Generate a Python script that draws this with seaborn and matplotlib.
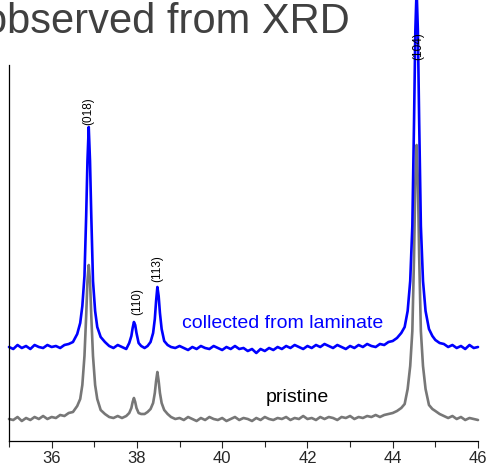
import matplotlib
matplotlib.use("Agg")
import matplotlib.pyplot as plt
import seaborn as sns

sns.set_style("ticks")
plt.rcParams['font.family'] = ['Liberation Sans', 'DejaVu Sans']

# 2-theta (deg) and intensities (arb. units, laminate trace already stacked above pristine)
two_theta = [
    35.0, 35.1, 35.2, 35.3, 35.4, 35.5, 35.6, 35.7, 35.8, 35.9, 36.0, 36.1, 36.2, 36.3, 36.4, 36.5,
    36.6, 36.67, 36.72, 36.77, 36.81, 36.84, 36.87, 36.90, 36.93, 36.97, 37.02, 37.07, 37.15, 37.25,
    37.35, 37.45, 37.55, 37.65, 37.75,
    37.82, 37.87, 37.90, 37.93, 37.96, 37.99, 38.04, 38.1, 38.18, 38.25, 38.32,
    38.38, 38.42, 38.45, 38.48, 38.51, 38.54, 38.58, 38.64, 38.72, 38.8, 38.9,
    39.0, 39.1, 39.2, 39.3, 39.4, 39.5, 39.6, 39.7, 39.8, 39.9,
    40.0, 40.1, 40.2, 40.3, 40.4, 40.5, 40.6, 40.7, 40.8, 40.9,
    41.0, 41.1, 41.2, 41.3, 41.4, 41.5, 41.6, 41.7, 41.8, 41.9,
    42.0, 42.1, 42.2, 42.3, 42.4, 42.5, 42.6, 42.7, 42.8, 42.9,
    43.0, 43.1, 43.2, 43.3, 43.4, 43.5, 43.6, 43.7, 43.8, 43.9,
    44.0, 44.1,
    44.2, 44.28, 44.35, 44.41, 44.46, 44.50, 44.53, 44.56, 44.59, 44.62, 44.66, 44.71, 44.77,
    44.85, 44.93, 45.0,
    45.1, 45.2, 45.3, 45.4, 45.5, 45.6, 45.7, 45.8, 45.9, 46.0,
]

pristine = [
    22, 21, 24, 20, 23, 21, 24, 22, 25, 22, 24, 23, 26, 25, 28, 29,
    35, 42, 56, 85, 125, 160, 176, 160, 125, 85, 56, 42, 31, 27, 24, 23, 25, 23, 25,
    28, 33, 39, 43, 39, 33, 28, 27, 27, 29, 32,
    38, 48, 60, 69, 60, 48, 38, 31, 27, 24, 22,
    23, 21, 24, 22, 20, 23, 21, 24, 22, 21,
    23, 20, 22, 24, 21, 23, 22, 20, 23, 21,
    24, 22, 21, 23, 22, 24, 21, 23, 22, 25,
    22, 23, 21, 24, 22, 24, 23, 21, 24, 23,
    25, 22, 24, 23, 25, 24, 26, 24, 26, 27,
    28, 30,
    33, 37, 52, 75, 110, 185, 260, 296, 260, 185, 110, 75, 52, 36, 32, 30,
    27, 25, 23, 25, 22, 24, 21, 23, 22, 21,
]

laminate = [
    94, 92, 96, 93, 95, 92, 96, 94, 93, 96, 94, 95, 93, 96, 97, 99,
    107, 118, 135, 165, 225, 280, 314, 280, 225, 160, 130, 114, 104, 99, 95, 93, 96, 94, 92,
    98, 105, 113, 119, 116, 108, 98, 95, 93, 95, 99,
    108, 122, 140, 154, 145, 128, 112, 100, 96, 94, 93,
    95, 93, 91, 94, 92, 95, 93, 92, 95, 93,
    91, 94, 92, 95, 92, 93, 90, 92, 88, 92,
    90, 93, 91, 94, 92, 95, 93, 96, 94, 92,
    95, 93, 96, 94, 97, 95, 93, 96, 94, 92,
    95, 93, 96, 94, 97, 95, 94, 97, 96, 99,
    100, 103,
    108, 114, 130, 160, 215, 320, 410, 452, 410, 320, 215, 160, 130, 112, 105, 101,
    98, 97, 94, 96, 93, 95, 92, 96, 93, 94,
]

peak_labels = ["(018)", "(110)", "(113)", "(104)"]
peak_theta = [36.85, 38.01, 38.48, 44.61]
label_height = [316, 126, 159, 381]

major_ticks = [36, 38, 40, 42, 44, 46]
minor_ticks = [35, 37, 39, 41, 43, 45]

fig = plt.figure(figsize=(4.87, 4.70), dpi=100)
ax = fig.add_axes([9 / 487, 29 / 470, 469 / 487, 376 / 470])

sns.lineplot(x=two_theta, y=pristine, color='#777777', lw=1.9, ax=ax, estimator=None, sort=False)
sns.lineplot(x=two_theta, y=laminate, color='#0000ff', lw=1.9, ax=ax, estimator=None, sort=False)
for line in ax.lines:
    line.set_clip_on(False)

for lab, x, y in zip(peak_labels, peak_theta, label_height):
    ax.text(x, y, lab, rotation=90, ha='center', va='bottom', fontsize=8.5, color='black')

ax.text(39.06, 113, "collected from laminate", color='#0000ff', fontsize=14, va='baseline')
ax.text(41.02, 39, "pristine", color='black', fontsize=14, va='baseline')

ax.set_xlim(35, 46)
ax.set_ylim(0, 376)
ax.set_xticks(major_ticks)
ax.set_xticks(minor_ticks, minor=True)
ax.set_yticks([])
ax.tick_params(axis='x', which='major', direction='out', length=5, width=0.8, labelsize=12, pad=2.5)
ax.tick_params(axis='x', which='minor', direction='out', length=4, width=0.8)
sns.despine(ax=ax)
for s in ['left', 'bottom']:
    ax.spines[s].set_linewidth(0.9)
    ax.spines[s].set_color('black')
ax.set_xlabel("")
ax.set_ylabel("")

fig.text(-16 / 487, 1 - 33 / 470, "observed from XRD", fontsize=30, color='#404040',
         ha='left', va='baseline')

fig.savefig("out.png", dpi=100)
